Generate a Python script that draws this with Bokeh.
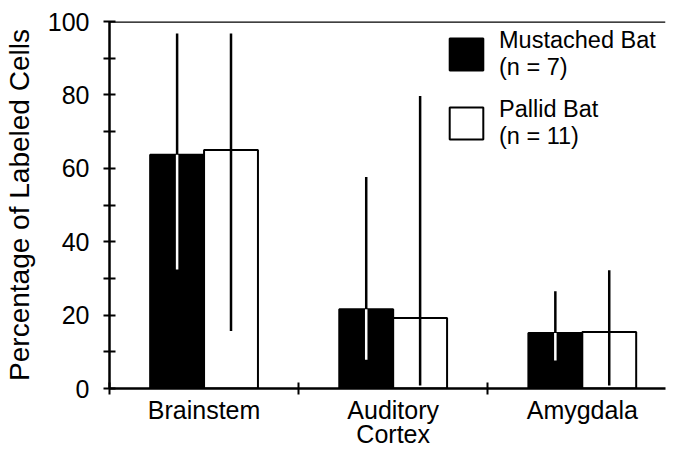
from bokeh.plotting import figure
from bokeh.models import ColumnDataSource, FixedTicker, Legend, LegendItem, Span, Range1d
from bokeh.transform import dodge
from bokeh.embed import file_html
from bokeh.resources import INLINE

categories = ["Brainstem", "Auditory\nCortex", "Amygdala"]
mustached_mean = [63.7, 21.6, 15.1]
mustached_low = [32.4, 7.8, 7.6]
mustached_high = [96.7, 57.6, 26.5]
pallid_mean = [65.0, 19.2, 15.4]
pallid_low = [15.7, 0.8, 0.8]
pallid_high = [96.7, 79.7, 32.2]
series_labels = ["Mustached Bat\n(n = 7)", "Pallid Bat\n(n = 11)"]
y_ticks = [0, 20, 40, 60, 80, 100]
y_minor = [10, 30, 50, 70, 90]

FONT = "Liberation Sans"
pos = [i + 0.5 for i in range(len(categories))]
src = ColumnDataSource(dict(
    x=pos,
    m=mustached_mean, m_lo=mustached_low, m_hi=mustached_high,
    p=pallid_mean, p_lo=pallid_low, p_hi=pallid_high,
))

p = figure(width=666, height=450, x_range=Range1d(0, 2.94), y_range=Range1d(0, 100),
           output_backend="svg", toolbar_location=None,
           min_border_left=109, min_border_right=1, min_border_top=21, min_border_bottom=61)
p.outline_line_color = None
p.xgrid.visible = False
p.ygrid.visible = False
p.background_fill_color = "white"
p.border_fill_color = "white"

off = 0.1425
bw = 0.285
r_m = p.vbar(x=dodge("x", -off), top="m", bottom=0, width=bw, source=src,
             fill_color="black", line_color="black", line_width=2)
r_p = p.vbar(x=dodge("x", off), top="p", bottom=0, width=bw, source=src,
             fill_color="white", line_color="black", line_width=2)
p.segment(x0=dodge("x", -off), y0="m_lo", x1=dodge("x", -off), y1="m_hi", source=src,
          line_color="black", line_width=2.5)
p.segment(x0=dodge("x", -off), y0="m_lo", x1=dodge("x", -off), y1="m", source=src,
          line_color="white", line_width=2.5)
p.segment(x0=dodge("x", off), y0="p_lo", x1=dodge("x", off), y1="p_hi", source=src,
          line_color="black", line_width=2.5)

p.add_layout(Span(location=100, dimension="width", line_color="black", line_width=2.5))

# y axis
ya = p.yaxis[0]
ya.ticker = FixedTicker(ticks=y_ticks, minor_ticks=y_minor)
ya.axis_label = "Percentage of Labeled Cells"
ya.axis_label_text_font = FONT
ya.axis_label_text_font_size = "28px"
ya.axis_label_text_font_style = "normal"
ya.axis_label_text_color = "black"
ya.axis_label_standoff = 10
ya.major_label_text_font = FONT
ya.major_label_text_font_size = "25px"
ya.major_label_text_color = "black"
ya.major_label_standoff = 14
ya.axis_line_width = 2.5
ya.axis_line_color = "black"
ya.major_tick_in = 6
ya.major_tick_out = 6
ya.minor_tick_in = 6
ya.minor_tick_out = 6
ya.major_tick_line_width = 2
ya.minor_tick_line_width = 2
ya.major_tick_line_color = "black"
ya.minor_tick_line_color = "black"

# x axis: category names at centres, ticks at category boundaries
xa = p.xaxis[0]
xa.ticker = FixedTicker(ticks=pos, minor_ticks=list(range(len(categories) + 1)))
xa.major_label_overrides = {pos[i]: categories[i] for i in range(len(categories))}
xa.major_label_text_font = FONT
xa.major_label_text_font_size = "25px"
xa.major_label_text_color = "black"
xa.major_label_text_line_height = 0.87
xa.major_label_standoff = 1
xa.axis_line_width = 2.5
xa.axis_line_color = "black"
xa.major_tick_in = 0
xa.major_tick_out = 0
xa.minor_tick_in = 6
xa.minor_tick_out = 6
xa.minor_tick_line_width = 2
xa.minor_tick_line_color = "black"

legend = Legend(items=[LegendItem(label=series_labels[0], renderers=[r_m]),
                       LegendItem(label=series_labels[1], renderers=[r_p])],
                location=(336, 238), orientation="vertical",
                glyph_width=42, glyph_height=40, label_standoff=12,
                label_text_font=FONT, label_text_font_size="23.5px",
                label_text_color="black",
                label_text_line_height=0.8,
                border_line_color=None, background_fill_alpha=0,
                padding=0, margin=0, spacing=15)
p.add_layout(legend)

open("out.html", "w").write(file_html(p, INLINE))
